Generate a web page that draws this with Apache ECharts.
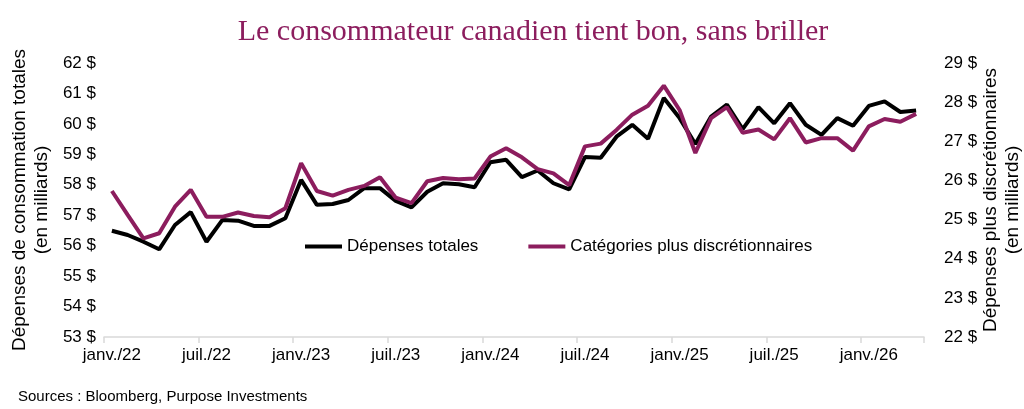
<!DOCTYPE html>
<html>
<head>
<meta charset="utf-8">
<script src="https://cdn.jsdelivr.net/npm/echarts@6/dist/echarts.min.js"></script>
<style>
  html, body { margin: 0; padding: 0; background: #fff; }
  #chart { width: 1024px; height: 409px; }
</style>
</head>
<body>
<div id="chart"></div>
<script>
// mois affichés sur l'axe (janv./22 -> avr./26)
var moisNoms = ['janv.', 'févr.', 'mars', 'avr.', 'mai', 'juin', 'juil.', 'août', 'sept.', 'oct.', 'nov.', 'déc.'];
var annees = ['22', '23', '24', '25', '26'];
var nbMois = 52;

// Dépenses totales (axe gauche, milliards $)
var depensesTotales = [
    56.49, 56.35, 56.13, 55.88, 56.68, 57.10, 56.13, 56.84, 56.82, 56.65,
    56.65, 56.90, 58.16, 57.34, 57.37, 57.50, 57.89, 57.89, 57.47, 57.26,
    57.77, 58.05, 58.02, 57.92, 58.74, 58.82, 58.25, 58.47, 58.05, 57.85,
    58.91, 58.89, 59.58, 59.97, 59.51, 60.85, 60.19, 59.34, 60.24, 60.63,
    59.83, 60.55, 60.02, 60.68, 59.97, 59.64, 60.19, 59.94, 60.59, 60.74,
    60.39, 60.44
];

// Catégories plus discrétionnaires (axe droit, milliards $)
var categoriesDiscretionnaires = [
    25.73, 25.12, 24.52, 24.65, 25.33, 25.76, 25.07, 25.07, 25.18, 25.09,
    25.06, 25.29, 26.44, 25.73, 25.61, 25.76, 25.86, 26.08, 25.56, 25.42,
    25.98, 26.06, 26.03, 26.05, 26.61, 26.82, 26.59, 26.29, 26.18, 25.88,
    26.87, 26.94, 27.29, 27.68, 27.91, 28.42, 27.80, 26.70, 27.59, 27.87,
    27.22, 27.30, 27.05, 27.59, 26.97, 27.08, 27.08, 26.76, 27.38, 27.57,
    27.50, 27.70
];

var mois = [];
for (var i = 0; i < nbMois; i++) {
    mois.push(moisNoms[i % 12] + '/' + annees[Math.floor(i / 12)]);
}

var violet = '#8C1D5E';
var police = '"Liberation Sans", Arial, sans-serif';

var chart = echarts.init(document.getElementById('chart'), null, { renderer: 'canvas' });

var option = {
    animation: false,
    backgroundColor: '#fff',
    textStyle: { fontFamily: police },
    title: [
        {
            text: 'Le consommateur canadien tient bon, sans briller',
            left: 528,
            textAlign: 'center',
            top: 12,
            textStyle: {
                fontFamily: '"Liberation Serif", "Times New Roman", serif',
                fontWeight: 'normal',
                fontSize: 30,
                color: violet
            }
        },
        {
            text: 'Sources : Bloomberg, Purpose Investments',
            left: 13,
            top: 384,
            textStyle: {
                fontFamily: police,
                fontWeight: 'normal',
                fontSize: 15,
                color: '#000'
            }
        }
    ],
    legend: {
        left: 300,
        top: 233,
        itemWidth: 37,
        itemHeight: 4,
        itemGap: 50,
        icon: 'rect',
        textStyle: { fontSize: 17, color: '#000', fontFamily: police },
        data: ['Dépenses totales', 'Catégories plus discrétionnaires']
    },
    grid: {
        left: 104,
        right: 100,
        top: 63,
        bottom: 72,
        containLabel: false,
        outerBoundsMode: 'none'
    },
    xAxis: {
        type: 'category',
        data: mois,
        boundaryGap: true,
        axisLine: { show: true, lineStyle: { color: '#d9d9d9', width: 1.5 } },
        axisTick: { show: true, interval: 5, length: 6, lineStyle: { color: '#d9d9d9', width: 1.5 } },
        axisLabel: {
            interval: 5,
            margin: 10,
            fontSize: 17,
            color: '#000',
            fontFamily: police
        },
        splitLine: { show: false }
    },
    yAxis: [
        {
            type: 'value',
            min: 53,
            max: 62,
            interval: 1,
            position: 'left',
            name: 'Dépenses de consommation totales\n(en milliards)',
            nameLocation: 'middle',
            nameRotate: 90,
            nameGap: 51,
            nameMoveOverlap: false,
            nameTextStyle: { fontSize: 19, color: '#000', lineHeight: 22, fontFamily: police },
            axisLine: { show: false },
            axisTick: { show: false },
            splitLine: { show: false },
            axisLabel: {
                formatter: '{value} $',
                margin: 8,
                fontSize: 17,
                color: '#000',
                fontFamily: police
            }
        },
        {
            type: 'value',
            min: 22,
            max: 29,
            interval: 1,
            position: 'right',
            name: 'Dépenses plus discrétionnaires\n(en milliards)',
            nameLocation: 'middle',
            nameRotate: 90,
            nameGap: 56,
            nameMoveOverlap: false,
            nameTextStyle: { fontSize: 19, color: '#000', lineHeight: 22, fontFamily: police },
            axisLine: { show: false },
            axisTick: { show: false },
            splitLine: { show: false },
            axisLabel: {
                formatter: '{value} $',
                margin: 20,
                fontSize: 17,
                color: '#000',
                fontFamily: police
            }
        }
    ],
    series: [
        {
            name: 'Dépenses totales',
            type: 'line',
            yAxisIndex: 0,
            data: depensesTotales,
            symbol: 'none',
            lineStyle: { color: '#000', width: 4 },
            itemStyle: { color: '#000' }
        },
        {
            name: 'Catégories plus discrétionnaires',
            type: 'line',
            yAxisIndex: 1,
            data: categoriesDiscretionnaires,
            symbol: 'none',
            lineStyle: { color: violet, width: 4 },
            itemStyle: { color: violet }
        }
    ]
};

chart.setOption(option);
</script>
</body>
</html>
